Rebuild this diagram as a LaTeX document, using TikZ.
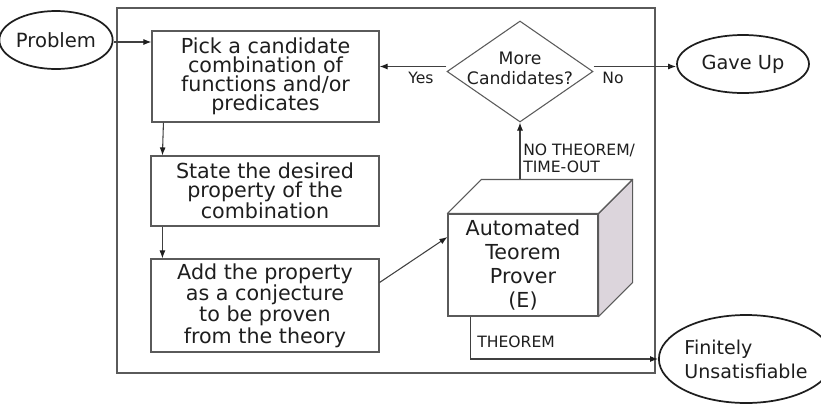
\documentclass[tikz,border=0pt]{standalone}
\usepackage{fontspec}
\setmainfont{DejaVu Sans}
\usetikzlibrary{shapes.geometric,arrows.meta,calc}
\definecolor{ink}{HTML}{1E1E1E}
\definecolor{edge}{HTML}{5A5A5A}
\definecolor{wire}{HTML}{404040}
\definecolor{sideface}{HTML}{DCD5DC}
\tikzset{
  x=0.75pt, y=-0.75pt,
  every node/.style={text=ink},
  box/.style={draw=edge, line width=0.85pt, rectangle, inner sep=2pt, align=center,
    font=\fontsize{15.5}{14.25}\selectfont},
  term/.style={draw=ink, line width=1.3pt, ellipse, inner sep=0pt},
  decision/.style={draw=edge, line width=0.8pt, diamond, inner sep=0pt},
  lbl/.style={font=\fontsize{11.7}{12.75}\selectfont, inner sep=0pt, align=left},
  arr/.style={draw=wire, line width=0.8pt, -{Latex[length=6pt,width=4.5pt,color=ink]}},
  frame/.style={draw=edge, line width=0.9pt}
}
\begin{document}
\begin{tikzpicture}
\useasboundingbox (0,0) rectangle (821,404);

% enclosing loop frame
\draw[frame] (117,8) rectangle (655,373);

% terminals
\node[term, minimum width=75pt, minimum height=43.5pt,
      font=\fontsize{14.7}{17}\selectfont] (prob) at (56,40) {Problem};
\node[term, minimum width=99pt, minimum height=43.5pt,
      font=\fontsize{14.5}{17}\selectfont] (gave) at (743,64) {Gave Up};
\node[term, minimum width=109.5pt, minimum height=66pt, align=left,
      font=\fontsize{14.3}{18}\selectfont] (fin) at (746,359) {Finitely\\Unsatisfiable};

% process steps
\node[box, minimum width=170.25pt, minimum height=68.25pt] (box1) at (265.5,76.5)
  {Pick a candidate\\combination of\\functions and/or\\predicates};
\node[box, minimum width=171pt, minimum height=52.5pt] (box2) at (265,191)
  {State the desired\\property of the\\combination};
\node[box, minimum width=171pt, minimum height=69.75pt] (box3) at (265,305.5)
  {Add the property\\as a conjecture\\to be proven\\from the theory};

% decision
\node[decision, minimum width=109.5pt, minimum height=75.75pt] (dec) at (520,71.5) {};
\node[font=\fontsize{12.9}{15}\selectfont, align=center, inner sep=0pt] (dectext) at (520,68)
  {More\\Candidates?};

% prover drawn as a cube
\node[box, minimum width=112.5pt, minimum height=76.5pt,
      font=\fontsize{15.5}{18}\selectfont] (cube) at (523,265)
  {Automated\\Teorem\\Prover\\(E)};
\coordinate (ctl) at ($(cube.north west)+(34,-34)$);
\coordinate (ctr) at ($(cube.north east)+(34,-34)$);
\coordinate (cbr) at ($(cube.south east)+(34,-34)$);
\draw[draw=edge, line width=0.85pt, fill=sideface, line join=round]
  (cube.north east) -- (ctr) -- (cbr) -- (cube.south east) -- cycle;
\draw[draw=edge, line width=0.85pt, fill=white, line join=round]
  (cube.north west) -- (ctl) -- (ctr) -- (cube.north east) -- cycle;

% connector end points
\coordinate (probout) at ($(prob.east)+(0,2)$);
\coordinate (yesout) at ($(dec.west)+(0,-5)$);
\coordinate (noout) at ($(dec.east)+(0,-5)$);
\coordinate (b1a) at ($(box1.south west)+(12,0)$);
\coordinate (b2a) at ($(box2.north west)+(12,0)$);
\coordinate (b2b) at ($(box2.south west)+(12,0)$);
\coordinate (b3a) at ($(box3.north west)+(12,0)$);
\coordinate (b3out) at ($(box3.east)+(0,-23)$);
\coordinate (cubein) at ($(cube.west)+(0,-28)$);
\coordinate (cubeout) at ($(cube.south west)+(23,0)$);

% connectors
\draw[arr] (probout) -- (probout -| box1.west);
\draw[arr] (b1a) -- (b2a);
\draw[arr] (b2b) -- (b3a);
\draw[arr] (b3out) -- (cubein);
\draw[arr] (dec.south |- ctl) -- (dec.south);
\draw[arr] (yesout) -- (yesout -| box1.east);
\draw[arr] (noout) -- (noout -| gave.west);
\draw[arr] (cubeout) |- (fin.west);

% connector labels
\node[lbl] (yes) at (421,78) {Yes};
\node[lbl] (no) at (613,78) {No};
\node[lbl, anchor=west] (nothm) at (523,158) {NO THEOREM/\\TIME-OUT};
\node[lbl, anchor=west] (thm) at (477,342) {THEOREM};
\end{tikzpicture}
\end{document}
